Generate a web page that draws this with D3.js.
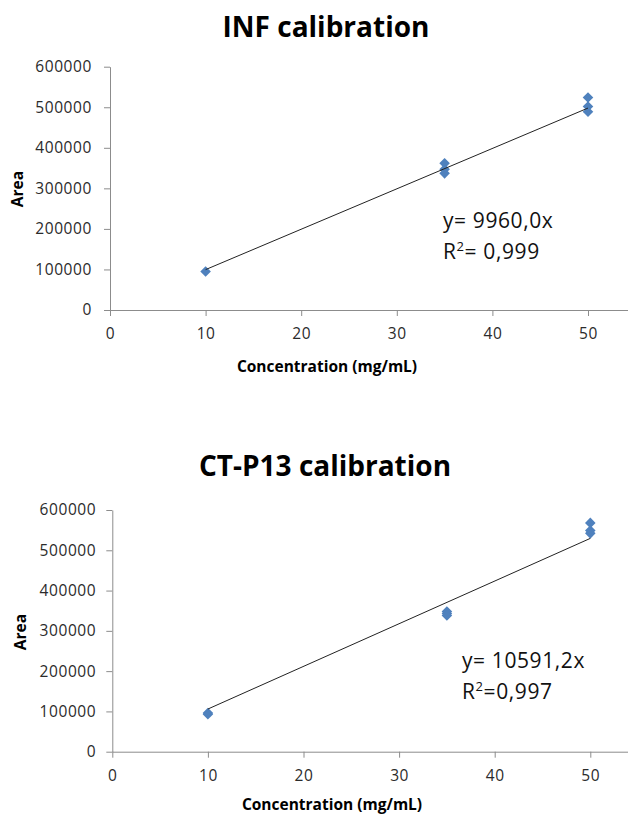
<!DOCTYPE html>
<html>
<head>
<meta charset="utf-8">
<script src="https://cdn.jsdelivr.net/npm/d3@7"></script>
<style>
  html, body { margin: 0; padding: 0; background: #fff; }
  svg { display: block; }
  .tick text { font-family: "Open Sans", sans-serif; font-size: 15.5px; letter-spacing: 0.6px; fill: #2b2b2b; }
  .tick line, .domain { stroke: #8c8c8c; }
</style>
</head>
<body>
<svg id="chart" width="628" height="814"></svg>
<script>
// Calibration measurements: concentration (mg/mL) and peak area
const infConc = [10, 35, 35, 35, 50, 50, 50];
const infArea = [95000, 362000, 347000, 337000, 524000, 502000, 489000];
const infSlope = 9960.0;
const infR2 = "0,999";

const ctConc = [10, 10, 35, 35, 35, 50, 50, 50];
const ctArea = [96000, 93000, 348000, 343000, 338000, 568000, 549000, 542000];
const ctSlope = 10591.2;
const ctR2 = "0,997";

const xTicks = [0, 10, 20, 30, 40, 50];
const yTicks = [0, 100000, 200000, 300000, 400000, 500000, 600000];
const fitRange = [10, 50];

const svg = d3.select("#chart");

function drawChart(opt) {
  const g = svg.append("g");
  const x = d3.scaleLinear().domain([0, 60]).range([opt.x0, opt.x0 + opt.xStep * 6]);
  const y = d3.scaleLinear().domain([0, 600000]).range([opt.y0, opt.yTop]);

  // title
  g.append("text")
    .attr("x", opt.titleX).attr("y", opt.titleY)
    .attr("text-anchor", "middle")
    .style("font-family", "'Open Sans', sans-serif")
    .style("font-weight", "bold").style("font-size", "28px")
    .text(opt.title);

  // axes
  g.append("g")
    .attr("transform", `translate(0,${opt.y0})`)
    .call(d3.axisBottom(x).tickValues(xTicks).tickFormat(d3.format("d")).tickSize(6).tickPadding(12).tickSizeOuter(0));
  g.append("g")
    .attr("transform", `translate(${opt.x0},0)`)
    .call(d3.axisLeft(y).tickValues(yTicks).tickFormat(d3.format("d")).tickSize(6).tickPadding(opt.yPad).tickSizeOuter(0));

  // axis titles
  g.append("text")
    .attr("x", opt.xTitleX).attr("y", opt.xTitleY)
    .attr("text-anchor", "middle")
    .style("font-family", "'Open Sans', sans-serif")
    .style("font-weight", "bold").style("font-size", "15.5px")
    .text("Concentration (mg/mL)");
  g.append("text")
    .attr("transform", `translate(${opt.yTitleX},${opt.yTitleY}) rotate(-90)`)
    .attr("text-anchor", "middle")
    .attr("dy", "0.35em")
    .style("font-family", "'Open Sans', sans-serif")
    .style("font-weight", "bold").style("font-size", "15.5px")
    .text("Area");

  // points
  const pts = opt.conc.map((c, i) => [c, opt.area[i]]);
  g.selectAll("path.pt").data(pts).enter().append("path")
    .attr("class", "pt")
    .attr("d", d3.symbol(d3.symbolSquare, 56))
    .attr("transform", d => `translate(${x(d[0])},${y(d[1])}) rotate(45)`)
    .attr("fill", "#4f81bd");

  // linear fit through origin
  const line = d3.line().x(d => x(d)).y(d => y(opt.slope * d));
  g.append("path")
    .datum(fitRange)
    .attr("d", line)
    .attr("fill", "none")
    .attr("stroke", "#222")
    .attr("stroke-width", 1);

  // equation labels
  const eq = g.append("g")
    .style("font-family", "'Open Sans', sans-serif")
    .style("font-size", "21px")
    .style("letter-spacing", "0.6px")
    .attr("fill", "#111");
  eq.append("text").attr("x", opt.eqX).attr("y", opt.eqY)
    .text(opt.eqText);
  const r = eq.append("text").attr("x", opt.eqX).attr("y", opt.eqY + 31);
  r.append("tspan").text("R");
  r.append("tspan").attr("dy", "-8").style("font-size", "13px").text("2");
  r.append("tspan").attr("dy", "8").text(opt.r2Text);
}

drawChart({
  title: "INF calibration", titleX: 326, titleY: 37,
  x0: 110, xStep: 95.6, y0: 310, yTop: 66.7, yPad: 12,
  xTitleX: 327, xTitleY: 372, yTitleX: 18, yTitleY: 189,
  conc: infConc, area: infArea, slope: infSlope,
  eqX: 443, eqY: 228,
  eqText: "y= " + d3.format(".1f")(infSlope).replace(".", ",") + "x",
  r2Text: "= " + infR2
});

drawChart({
  title: "CT-P13 calibration", titleX: 325, titleY: 476,
  x0: 112.3, xStep: 95.6, y0: 751.7, yTop: 510, yPad: 10,
  xTitleX: 332, xTitleY: 810, yTitleX: 21, yTitleY: 632,
  conc: ctConc, area: ctArea, slope: ctSlope,
  eqX: 462, eqY: 668,
  eqText: "y= " + d3.format(".1f")(ctSlope).replace(".", ",") + "x",
  r2Text: "=" + ctR2
});
</script>
</body>
</html>
